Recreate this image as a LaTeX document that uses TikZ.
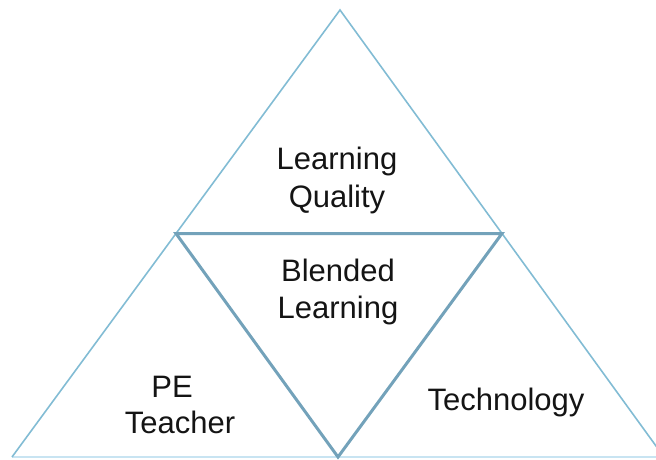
\documentclass[tikz,border=0pt]{standalone}
\usepackage{fontspec}
\setmainfont{Liberation Sans}
\definecolor{outerblue}{RGB}{130,188,212}
\definecolor{innerblue}{RGB}{115,162,186}
\definecolor{baseblue}{RGB}{200,228,242}
\begin{document}
\begin{tikzpicture}[x=1pt,y=-1pt,
  outerline/.style={draw=outerblue,line width=1.6pt},
  innerline/.style={draw=innerblue,line width=3pt,line join=miter},
  baseline/.style={draw=baseblue,line width=1.2pt},
  lbl/.style={font=\fontsize{31}{37}\selectfont,text=black!92,anchor=base,inner sep=0pt}]
\useasboundingbox (0,0) rectangle (656,459);
\clip (0,0) rectangle (656,459);
\coordinate (A) at (340,10);
\coordinate (BL) at (12,457);
\coordinate (BR) at (664,457);
\coordinate (ML) at (176,233.5);
\coordinate (MR) at (502,233.5);
\coordinate (MB) at (338,457);
\draw[baseline] (BL) -- (BR);
\draw[outerline] (BL) -- (A) -- (BR);
\draw[innerline] (ML) -- (MR) -- (MB) -- cycle;
\node[lbl] (lq1) at (337,169) {Learning};
\node[lbl] (lq2) at (337,207) {Quality};
\node[lbl] (bl1) at (338,281) {Blended};
\node[lbl] (bl2) at (338,318) {Learning};
\node[lbl] (pe1) at (172,397) {PE};
\node[lbl] (pe2) at (180,433) {Teacher};
\node[lbl] (tech) at (506,410) {Technology};
\end{tikzpicture}
\end{document}
